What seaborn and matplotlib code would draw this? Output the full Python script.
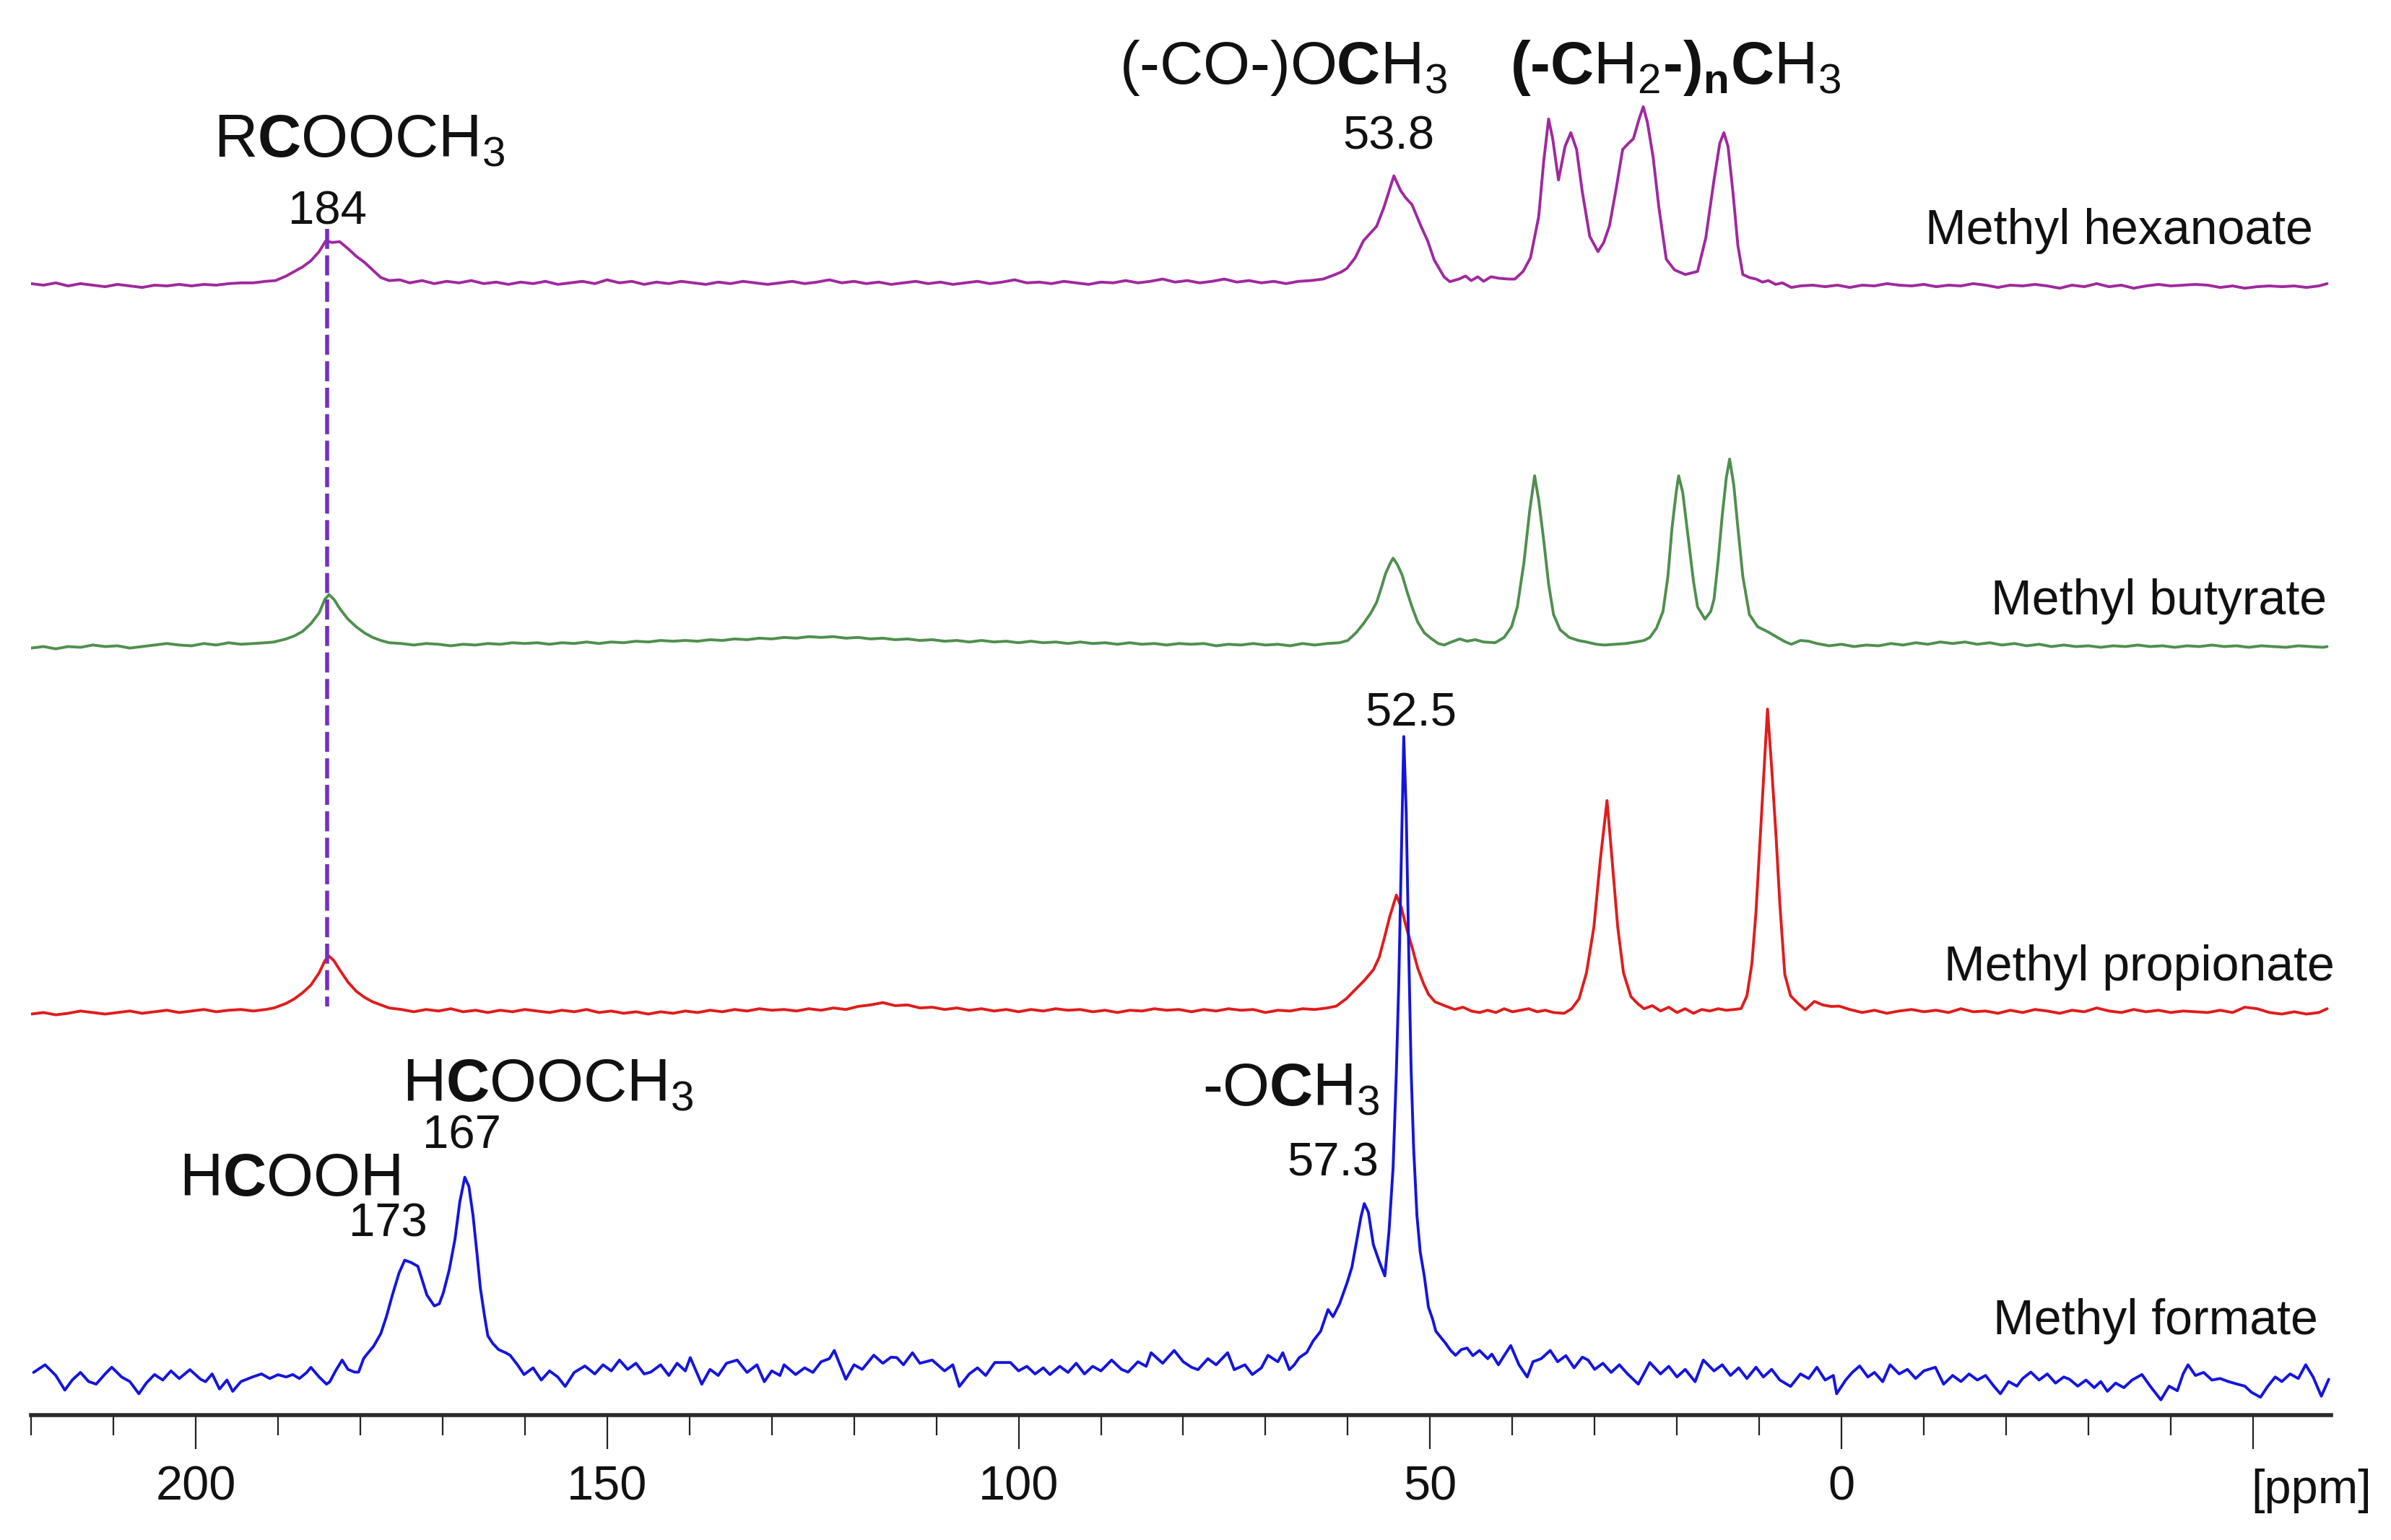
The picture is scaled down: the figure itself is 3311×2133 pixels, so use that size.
import numpy as np
import matplotlib
matplotlib.use("Agg")
import matplotlib.pyplot as plt
from matplotlib.ticker import MultipleLocator
import matplotlib.transforms as mtransforms
import seaborn as sns

# 13C NMR traces: chemical shift (ppm) and intensity above own baseline
hex_ppm = [220, 218.5, 217, 215.5, 214, 212.5, 211, 209.5, 208, 206.5, 205, 203.5, 202, 200.5, 199, 197.5, 196, 194.5, 193, 191.5, 190.3,
           189, 188, 187, 186, 185, 184.2, 183.4, 182.5, 181.5, 180.5, 179.5, 178.5, 177.5, 176.5,
           175.2, 174, 172.5, 171, 169.5, 168, 166.5, 165, 163.5, 162, 160.5, 159, 157.5, 156, 154.5, 153, 151.5, 150, 148.5, 147,
           145.5, 144, 142.5, 141, 139.5, 138, 136.5, 135, 133.5, 132, 130.5, 129, 127.5, 126, 124.5, 123, 121.5, 120, 118.5, 117,
           115.5, 114, 112.5, 111, 109.5, 108, 106.5, 105, 103.5, 102, 100.5, 99, 97.5, 96, 94.5, 93, 91.5, 90, 88.5, 87,
           85.5, 84, 82.5, 81, 79.5, 78, 76.5, 75, 73.5, 72, 70.5, 69, 67.5, 66, 64.5, 63, 62.0,
           60.8, 60.1, 59.1, 58.1, 56.5, 55.6, 54.4, 53.6, 53.0, 52.2, 51.1, 50.3, 49.5, 48.3, 47.6,
           46.5, 45.7, 45.0, 44.2, 43.5, 42.6, 41.6, 40.5, 39.7,
           38.7, 37.8, 36.8, 36.2, 35.6, 35.1, 34.4, 33.6, 32.9, 32.2, 31.5, 30.6, 29.6, 28.9, 28.2, 27.4, 26.6, 25.9, 25.3,
           24.6, 24.1, 23.6, 22.9, 22.2, 21.3, 20.3, 19.0, 17.5, 16.5, 15.5, 14.8, 14.3, 13.8, 13.2, 12.6, 12.0, 11.2, 10.4,
           9.6, 8.9, 8.0, 7.2, 6.1, 5.0,
           3.5, 2, 0.5, -1, -2.5, -4, -5.5, -7, -8.5, -10, -11.5, -13, -14.5, -16, -17.5, -19, -20.5, -22, -23.5, -25,
           -26.5, -28, -29.5, -31, -32.5, -34, -35.5, -37, -38.5, -40, -41.5, -43, -44.5, -46, -47.5, -49, -50.5, -52,
           -53.5, -55, -56.5, -58, -59]
hex_int = [0, -1, 0.5, -1.5, 0, -1, -2, -0.5, -1.5, -2.5, -1, -1.5, -0.5, -1.5, -0.5, -1, 0, 0.5, 0.5, 1.5, 2,
           5, 8, 11, 15, 21, 28, 27, 27.5, 23, 18, 14, 9, 4, 2,
           2.5, 0.5, 2, 0, 1.5, 0.5, 2, 0, 1, -0.5, 1, 0, 1.5, -0.5, 0.5, 1.5, 0, 2.5, 0.5, 1.5,
           -0.5, 1, 0, 1.5, 0.5, -0.5, 1, 0, 1.5, 0.5, -0.5, 0.5, 1.5, 0, 1, 2.5, 0.5, 1.5, 0, 1,
           -0.5, 0.5, 1.5, 0, 1, -0.5, 0.5, 1.5, 0, 1, 2.5, 0.5, 1, 0, 1.5, 0.5, -0.5, 1, 0.5, 2,
           0.5, 1.5, 3, 1, 2, 0.5, 1.5, 3, 1, 2, 0.5, 1.5, 0, 1.5, 2, 3, 5,
           7.6, 10, 17, 28.1, 37.6, 50.2, 70.7, 61.2, 56.5, 51.8, 37.6, 28.1, 15.5, 4.4, 1.3,
           3, 5, 2, 4.5, 1.5, 4.5, 3.5, 3, 3,
           8, 17, 44, 80, 108, 95, 68, 90, 99, 88, 60, 31, 21, 27, 38, 62, 88, 92, 95,
           108, 116, 106, 83, 50, 16, 9, 6, 8, 30, 68, 92, 99, 90, 60, 25, 6, 4, 3,
           1, 2, -0.5, 0.5, -2.5, -1.5,
           -1, -2, -1, -2.5, -1, -1.5, 0, -1, -1.5, -0.5, -2, -1, -1.5, 0, -1, -2.5, -1, -1.5, -0.5, -1.5,
           -3, -1, -2, 0, -2, -1, -3, -1.5, -0.5, -1.5, -1, -0.5, -1, -2.5, -1.5, -3, -2, -1.5,
           -2, -1.5, -2.5, -1.5, 0]

but_ppm = [220, 218.5, 217, 215.5, 214, 212.5, 211, 209.5, 208, 206.5, 205, 203.5, 202, 200.5, 199, 197.5, 196, 194.5, 193, 191.5, 190.5,
           189, 188, 187, 186, 185, 184.3, 183.8, 183.2, 182.5, 181.5, 180.5, 179.5, 178.5, 177.5, 176.5,
           175, 173.5, 172, 170.5, 169, 167.5, 166, 164.5, 163, 161.5, 160, 158.5, 157, 155.5, 154, 152.5, 151, 149.5, 148, 146.5,
           145, 143.5, 142, 140.5, 139, 137.5, 136, 134.5, 133, 131.5, 130, 128.5, 127, 125.5, 124, 122.5, 121, 119.5, 118, 116.5,
           115, 113.5, 112, 110.5, 109, 107.5, 106, 104.5, 103, 101.5, 100, 98.5, 97, 95.5, 94, 92.5, 91, 89.5, 88, 86.5,
           85, 83.5, 82, 80.5, 79, 77.5, 76, 74.5, 73, 71.5, 70, 68.5, 67, 65.5, 64, 62.5, 61,
           60, 59, 58.1, 57.2, 56.5, 55.9, 55.4, 54.9, 54.5, 54.0, 53.4, 52.8, 52.2, 51.5, 50.7, 49.8, 49.0, 48.3, 47.4, 46.4,
           45.5, 44.5, 43.5, 42.1, 41.0, 40.1, 39.4, 38.6, 37.9, 37.3, 36.8, 36.2, 35.6, 35.0, 34.2, 33.1, 32, 31, 29.8, 28.8,
           27.5, 26.2, 25, 24, 23.3, 22.5, 21.7, 21.1, 20.6, 20.1, 19.8, 19.3, 18.6, 18, 17.5, 16.6, 15.9, 15.5, 15, 14.5,
           14, 13.6, 13.1, 12.6, 12, 11.2, 10.2, 8.9, 7.8, 6.8, 6.1, 5, 4,
           3, 1.5, 0, -1.5, -3, -4.5, -6, -7.5, -9, -10.5, -12, -13.5, -15, -16.5, -18, -19.5, -21, -22.5, -24, -25.5,
           -27, -28.5, -30, -31.5, -33, -34.5, -36, -37.5, -39, -40.5, -42, -43.5, -45, -46.5, -48, -49.5, -51, -52.5,
           -54, -55.5, -57, -58.5, -59]
but_int = [-2, -1, -2.5, -1, -1.5, 0, -1, -0.5, -2, -1, 0, 1, 0, -0.5, 1, 0, 1.5, 0.5, 1, 1.5, 2,
           4, 6, 9, 14, 21, 30, 33, 30, 24, 17, 12, 8, 5, 3, 1.5,
           1, 0, 1, 0.5, -0.5, 0.5, 0, 1, 0.5, 1.5, 1, 1.5, 0.5, 1.5, 1, 2, 1, 2, 1.5, 2.5,
           2, 3, 2.5, 3, 2.5, 3.5, 3, 4, 3.5, 4.5, 4, 5, 4.5, 5.5, 5, 5.5, 4.5, 5, 4, 4.5,
           3.5, 4, 3, 3.5, 2.5, 3, 2, 3, 2, 2.5, 1.5, 2.5, 1.5, 2, 1, 2, 1, 1.5, 0.5, 1.5,
           0.5, 1, 0, 1, 0.5, 1, -0.5, 0.5, 0, 1, 0, 0.5, -0.5, 1, 0, 1, 1.5,
           3, 8, 14, 21, 28, 38, 47, 53, 57, 53, 46, 35, 25, 15, 8, 4, 1, 0, 2, 4,
           2.5, 3.5, 2, 1.5, 5, 12, 25, 54, 88, 111, 95, 69, 40, 20, 10, 5, 3, 2, 0.5, 0,
           0.5, 1, 2, 3, 5, 11, 22, 45, 77, 100, 111, 100, 69, 42, 25, 17, 22, 30, 55, 85,
           110, 122, 105, 77, 45, 20, 12, 8.5, 5, 2, 0.5, 3, 2.5,
           1, -0.5, 0.5, -1, 0, -0.5, 1, 0, 1.5, 0.5, 2, 1, 2, 0.5, 1.5, 0, 1, -0.5, 0.5, -1,
           0, -1, -0.5, -1.5, -0.5, -1, 0, -1, -0.5, -1.5, -0.5, -1, 0, -1, -0.5, -1.5, -0.5, -1,
           -1.5, -0.5, -1, -1.5, -1]

prop_ppm = [220, 218.5, 217, 215.5, 214, 212.5, 211, 209.5, 208, 206.5, 205, 203.5, 202, 200.5, 199, 197.5, 196, 194.5, 193, 191.5, 190.5,
            189, 188, 187, 186, 185, 184.3, 183.8, 183.2, 182.5, 181.5, 180.5, 179.5, 178.5, 177.5, 176.5,
            175, 173.5, 172, 170.5, 169, 167.5, 166, 164.5, 163, 161.5, 160, 158.5, 157, 155.5, 154, 152.5, 151, 149.5, 148, 146.5,
            145, 143.5, 142, 140.5, 139, 137.5, 136, 134.5, 133, 131.5, 130, 128.5, 127, 125.5, 124, 122.5, 121, 119.5, 118, 116.5,
            115, 113.5, 112, 110.5, 109, 107.5, 106, 104.5, 103, 101.5, 100, 98.5, 97, 95.5, 94, 92.5, 91, 89.5, 88, 86.5,
            85, 83.5, 82, 80.5, 79, 77.5, 76, 74.5, 73, 71.5, 70, 68.5, 67, 65.5, 64, 62.5, 61.4,
            60.2, 59.1, 58, 56.9, 56.2, 55.6, 54.9, 54.1, 53.5, 52.9, 52.2, 51.5, 50.8, 50.2, 49.4, 48, 47, 46, 45, 44,
            43, 42, 41, 40, 39, 38, 37, 36, 35, 33.7, 32.8, 31.9, 31, 30.1, 29.3, 28.5, 27.9, 27.2, 26.5, 25.6,
            24.8, 24, 23, 22, 21, 20, 19, 18, 17, 16, 15, 14, 13, 12.2, 11.5, 10.9, 10.4, 10.0, 9.5, 9.0,
            8.5, 8.0, 7.5, 6.9, 6.2, 5.3, 4.4, 3.3, 2.3, 1.3, 0.3,
            -1, -2.5, -4, -5.5, -7, -8.5, -10, -11.5, -13, -14.5, -16, -17.5, -19, -20.5, -22, -23.5, -25, -26.5, -28, -29.5,
            -31, -32.5, -34, -35.5, -37, -38.5, -40, -41.5, -43, -44.5, -46, -47.5, -49, -50.5, -52, -53.5, -55, -56.5,
            -58, -59]
prop_int = [-2, -1, -2.5, -1.5, 0, -1, -2, -1, 0, -1.5, -0.5, 0.5, -1, 0, 1, -0.5, 0.5, 1, 0, 1, 2,
            5, 8, 12, 17, 25, 33, 36, 33, 27, 19, 13, 9, 6, 4, 2,
            1, -0.5, 1, 0, 1.5, -0.5, 0.5, -1, 0.5, -0.5, 1, 0, -1, 0.5, -0.5, 1, -1, 0, -1.5, -0.5,
            -2, -0.5, -1.5, 0, -1, 0.5, -0.5, 1, 0, 1.5, 0.5, 1, 0, 1.5, 0.5, 2, 1, 3, 4, 5.5,
            3.5, 4, 2, 2.5, 1, 2, 0.5, 1.5, 0, 1, -0.5, 1, 0, 1.5, 0.5, 1, -0.5, 0.5, -1, 0.5,
            0, 1.5, 0.5, 1, -0.5, 1, 0, 1.5, 0.5, 1, -1, 0.5, 0, 1.5, 1, 2, 3.2,
            8, 14, 20, 27, 35, 47, 62, 76, 68, 55, 42, 28, 18, 11, 6, 3, 1, 2.5, 0, -1,
            0.5, -1, 1.5, -0.5, 0.5, 1.5, -0.5, 0.5, -1, -1.5, 1.5, 8, 25, 55, 100, 138, 100, 55, 25, 9.5,
            5, 1.5, 3.5, 0, 2.5, -1, 1.5, -1.5, 1, 0, 1.5, 0.5, 1, 1.6, 10, 31, 65, 103, 150, 198,
            160, 118, 70, 24, 10, 5, 0.8, 6.3, 4, 3, 3.2,
            1, -1, 0.5, -1.5, 0, 1, -0.5, 0.5, -1, 1.5, -0.5, 0, -1.5, 0.5, -1, 1, 0, -1.5, 0.5, -0.5,
            2, 0, -1, 1, -0.5, 0.5, -1, 0, -0.5, -1, 0.5, -1, 2.5, 1.5, -1, -2, -0.5, -2,
            -1, 1.5]

form_ppm = [219.7, 218.3, 217, 215.9, 215, 214, 213, 212.1, 211, 210.2, 209, 208, 206.9, 206, 205, 204, 203, 202, 200.7, 199.4,
            198.8, 198, 197.1, 196.2, 195.5, 194.5, 193.1, 192, 191, 190, 189, 188.2, 187.4, 186.5, 186, 185, 184.1, 183.7, 183, 182.2,
            181.5, 180.7, 180.2, 179.6, 179.3, 178.4, 177.5, 176.8, 176.1, 175.3, 174.6, 173.8, 173, 172.5, 171.9, 171, 170.4, 169.9, 169.2, 168.5,
            167.9, 167.3, 166.8, 166.3, 165.8, 165.4, 164.9, 164.5, 163.9, 163.2, 162.3, 161.8, 160.9, 160.1, 159, 158, 157, 156, 155.1, 154,
            152.7, 151.5, 150.5, 149.5, 148.5, 147.5, 146.5, 145.5, 144.7, 143.5, 142.5, 141.5, 140.5, 139.9, 138.5, 137.5, 136.5, 135.5, 134.2, 133,
            131.8, 130.9, 130, 129, 128.5, 127.1, 126, 125, 124, 123, 122.4, 121, 120, 119, 117.6, 116.5, 115.5, 114.8, 114, 112.9,
            112, 110.5, 109, 108, 107.2, 106, 105, 104, 102.9, 101, 100, 99, 98, 97, 96.2, 95, 94, 93, 92, 91,
            90, 88.7, 87.5, 86.7, 85.5, 84.5, 83.9, 82.5, 81.1, 80, 79, 78.2, 77, 76, 74.6, 73.8, 72.5, 71.6, 70.5, 69.7,
            68.5, 67.9, 67.1, 66.5, 65.9, 65, 64.2, 63.3, 62.4, 61.8, 61, 60.1, 59.5, 58.9, 58.4, 58.0, 57.5, 56.9, 56.2, 55.5,
            55, 54.5, 54.1, 53.8, 53.5, 53.2, 52.9, 52.6, 52.3, 52.0, 51.6, 51.2, 50.7, 50.2, 49.7, 49.3, 48.7, 48.1, 47.5, 46.9,
            46.2, 45.5, 44.8, 44.0, 43, 42.5, 41.7, 41, 40.2, 39.2, 38.2, 37.5, 36.5, 35.4, 34.5, 33.5, 32.5, 31.5, 30.8, 30,
            29, 28, 27, 26, 24.7, 23.3, 22, 21, 20, 19, 17.8, 16.8, 15.5, 14.5, 13.5, 12.5, 11.5, 10.4, 9.5, 8.5,
            7.5, 6.2, 5, 4, 3, 2, 1, 0.6, -0.5, -1.3, -2.2, -3.2, -4, -5, -5.9, -7, -8, -9, -10, -11.4,
            -12.4, -13.5, -14.5, -15.5, -16.5, -17.5, -18.5, -19.3, -20.3, -21.3, -22, -23, -24, -25, -26, -27, -27.7, -28.7, -29.7, -30.7,
            -31.5, -32.3, -33.3, -34.3, -35.3, -36.5, -37.5, -38.8, -39.8, -40.8, -41.5, -42.1, -43, -44, -45, -46, -47, -48.1, -49, -49.8,
            -50.9, -51.8, -52.7, -53.5, -54.5, -55.5, -56.4, -57.3, -58.3, -59.2]
form_int = [3, 8, 1, -8.6, -2, 3, -3, -4.7, 2, 6.4, 0, -3, -11, -4, 1.6, -2, 4, -1, 4.8, -1.5,
            -3.1, 2, -7.9, -2, -9.4, -3, 0, 2, -1, 1.5, 0, 1.6, -1, 3, 6.3, 0, -4.7, -3.1, 4, 11.1,
            5, 3.2, 3.2, 12, 14.2, 20, 28.5, 40, 53.7, 68, 76.6, 75, 72.6, 64, 53.7, 46.6, 48, 55.3, 70, 90,
            115, 131, 125, 106, 80, 58, 40, 27, 22, 18, 15.8, 14.3, 8, 1.6, 6, -2, 4, 0, -6.2, 3,
            7.2, 2, 8, 4, 11.1, 5, 9, 2, 3.2, 8, 1, 9, 4, 12.7, -4.7, 5, 1, 9, 11.1, 3,
            8, -3.1, 4, 1, 8, 1.6, 6, 3, 10, 12, 17.4, -1.5, 8, 5, 14.3, 9, 13, 12.7, 8, 15.9,
            9, 11.1, 4, 8, -6.2, 2, 6, 1, 9.5, 9.5, 4, 7, 2, 6, 1.6, 7, 3, 9, 2, 7,
            4, 11.1, 5, 3.2, 10, 7, 15.9, 9, 17.4, 10, 6.4, 4.8, 12, 8, 15.9, 4.8, 8, 1.6, 6, 14.2,
            10, 15.9, 4.8, 8, 12.7, 16, 23.7, 30, 44.2, 39.5, 48, 61.6, 72, 90, 105, 113.7, 108, 86.9, 76, 66.3,
            95, 137, 200, 260, 340, 420, 370, 280, 200, 150, 106, 82, 66, 45.8, 38, 30, 26, 22, 17.4, 14.2,
            18, 19, 14, 17.4, 12, 15, 8, 14, 20.6, 8, 0, 10, 12, 17.4, 10, 14, 6, 13, 11.1, 5,
            9, 3, 8, 2, -4.7, 9.5, 2, 7, 0, 5, -3.1, 11.1, 4, 8, 1, 6, -1, 6.4, 0, 5,
            -2, -6.2, 2, -1, 6.4, -2, 1, -11, -2, 3, 7.2, 0, 3, -3.1, 8, 2, 5, -1, 4, 6.4,
            -4.7, 1, -3, 2, -2, 1, -6, -11, -3, -6, -1, 3.2, -2, 2, -4, 0, -1.5, -6, -2, -7,
            -3, -9.4, -4, -7, -2, 1.6, -6, -15, -6, -9, 2, 8, 1, 3, -2, -1, -3, -4.7, -6, -10,
            -13.3, -6, 0, -3, 2, -1, 8, 0, -12.6, -1.5]

names = ["Methyl hexanoate", "Methyl butyrate", "Methyl propionate", "Methyl formate"]
colors = ["#a0289e", "#4f8f4f", "#e01c1c", "#1414e0"]
offsets = [742, 505, 265, 25]

guide_ppm = 184.0

# annotation text, position (ppm, height) and size
labels = [
    (r"R$\mathbf{C}$OOCH$_3$", 180.1, 825, 60),
    ("184", 184.0, 781, 47),
    (r"(-CO-)O$\mathbf{C}$H$_3$", 67.8, 873, 60),
    ("53.8", 55.0, 830, 47),
    ("$\\mathbf{(\u00adC}$H$_2\\mathbf{\u00ad)}_\\mathbf{n}\\mathbf{C}$H$_3$", 20.2, 873, 60),
    ("52.5", 52.3, 452, 47),
    (r"H$\mathbf{C}$OOCH$_3$", 157.2, 206, 60),
    ("167", 167.7, 175, 47),
    (r"H$\mathbf{C}$OOH", 188.6, 144, 60),
    ("173", 176.6, 117, 47),
    ("57.3", 61.8, 157, 47),
]
name_pos = [(-57.3, 768), (-59.0, 525), (-59.9, 285), (-57.9, 53)]

sns.set_theme(style="white")
plt.rcParams['font.family'] = ['Liberation Sans', 'DejaVu Sans']
plt.rcParams['mathtext.fontset'] = 'custom'
plt.rcParams['mathtext.rm'] = 'Liberation Sans'
plt.rcParams['mathtext.bf'] = 'Liberation Sans:bold'
plt.rcParams['mathtext.it'] = 'Liberation Sans:italic'
plt.rcParams['mathtext.sf'] = 'Liberation Sans'

fig = plt.figure(figsize=(33.11, 21.33), dpi=100)
ax = fig.add_axes([0.013, 0.0811, 0.962, 0.9189])

traces = [(hex_ppm, hex_int), (but_ppm, but_int), (prop_ppm, prop_int), (form_ppm, form_int)]
for (ppm, inten), col, off in zip(traces, colors, offsets):
    sns.lineplot(x=ppm, y=np.array(inten) + off, sort=False, estimator=None,
                 color=col, linewidth=2.8, ax=ax)

# dashed guide through the RCOOCH3 carbonyl
ax.plot([guide_ppm, guide_ppm], [offsets[0] + 36, offsets[2] + 3], color="#7330c4",
        linewidth=4, dashes=(5, 1.6), zorder=5)

for txt, x, y, fs in labels:
    ax.text(x, y, txt, fontsize=fs, ha="center", va="baseline", color="#111111")
ax.text(56.1, 203, r"-O$\mathbf{C}$H$_3$", fontsize=60, ha="right", va="baseline", color="#111111")
for name, (x, y) in zip(names, name_pos):
    ax.text(x, y, name, fontsize=49, ha="right", va="baseline", color="#111111", clip_on=False)

ax.set_xlim(220, -59.5)
ax.set_ylim(0, 928)
ax.set_xticks([200, 150, 100, 50, 0, -50])
ax.set_xticklabels(["200", "150", "100", "50", "0", ""])
ax.xaxis.set_minor_locator(MultipleLocator(10))
ax.tick_params(axis="x", which="major", direction="out", length=34, width=1.6,
               color="#222222", labelsize=48, pad=16, labelcolor="#111111", bottom=True)
ax.tick_params(axis="x", which="minor", direction="out", length=20, width=1.6,
               color="#222222", bottom=True)
ax.set_yticks([])
for side in ["top", "right", "left"]:
    ax.spines[side].set_visible(False)
ax.spines["bottom"].set_linewidth(4)
ax.spines["bottom"].set_color("#2a2a2a")
ax.set_xlabel("")
ax.set_ylabel("")

trans = mtransforms.blended_transform_factory(ax.transData, ax.transAxes)
ax.text(-49.8, -0.0622, "[ppm]", transform=trans, fontsize=48, ha="left",
        va="baseline", color="#111111", clip_on=False)

fig.savefig("out.png", dpi=100)
